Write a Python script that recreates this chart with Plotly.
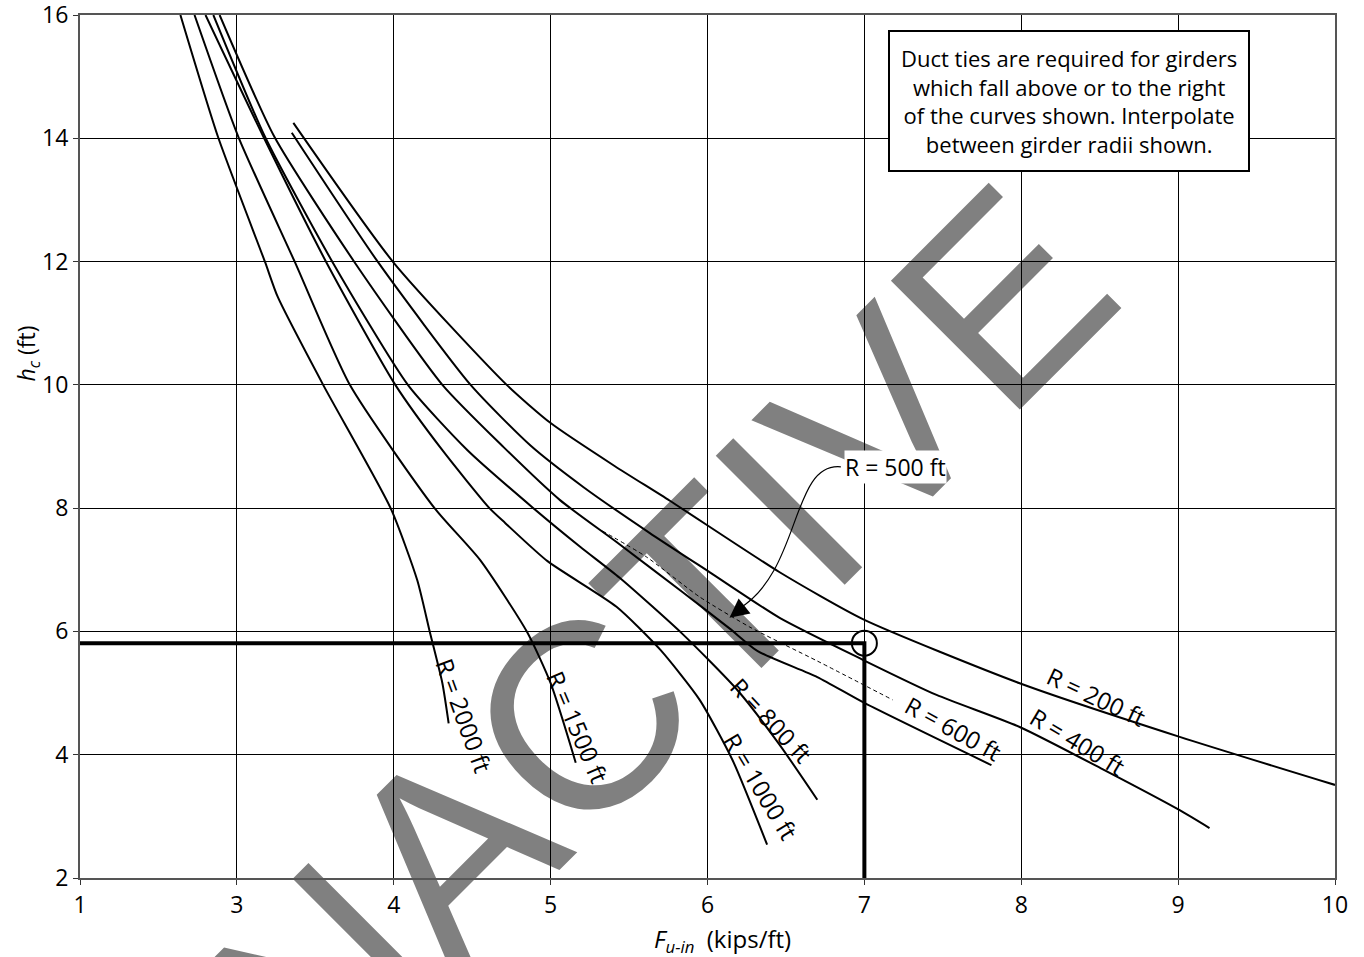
import plotly.graph_objects as go

# ---------------- data ----------------
x_tick_vals = [2, 3, 4, 5, 6, 7, 8, 9, 10]
x_tick_text = ["1", "3", "4", "5", "6", "7", "8", "9", "10"]
y_tick_vals = [2, 4, 6, 8, 10, 12, 14, 16]

r2000_x = [2.64, 2.88, 3.18, 3.26, 3.55, 3.98, 4.15, 4.23, 4.31, 4.35]
r2000_y = [16.0, 14.02, 11.99, 11.43, 10.0, 8.0, 6.83, 5.99, 5.16, 4.51]

r1500_x = [2.73, 3.01, 3.37, 3.72, 4.26, 4.55, 4.85, 5.00, 5.16]
r1500_y = [16.0, 14.02, 11.99, 10.0, 8.0, 7.16, 5.99, 5.16, 3.87]

r1000_x = [2.80, 3.17, 3.57, 4.01, 4.31, 4.61, 4.71, 4.98, 5.42, 5.70, 5.95, 6.16, 6.38]
r1000_y = [16.0, 14.02, 11.99, 10.0, 8.94, 8.0, 7.76, 7.14, 6.40, 5.70, 4.89, 3.91, 2.54]

r800_x = [2.85, 3.18, 3.61, 4.09, 4.47, 4.89, 5.19, 5.44, 5.84, 6.19, 6.46, 6.70]
r800_y = [16.0, 14.02, 11.99, 10.0, 8.94, 8.0, 7.37, 6.87, 5.96, 5.05, 4.16, 3.27]

r600_x = [2.89, 3.24, 3.75, 4.31, 4.70, 5.06, 5.42, 5.84, 6.14, 6.32, 6.70, 7.00, 7.81]
r600_y = [16.0, 14.02, 11.99, 10.0, 8.99, 8.13, 7.45, 6.64, 6.05, 5.68, 5.26, 4.84, 3.83]

r400_x = [3.35, 3.90, 4.49, 4.87, 5.21, 5.63, 6.02, 6.46, 6.99, 7.46, 7.99, 8.53, 9.01, 9.20]
r400_y = [14.09, 11.99, 10.0, 9.02, 8.34, 7.60, 6.95, 6.22, 5.54, 4.97, 4.45, 3.75, 3.10, 2.81]

r200_x = [3.36, 4.00, 4.72, 5.00, 5.41, 5.76, 6.46, 6.99, 7.99, 9.01, 10.0]
r200_y = [14.25, 11.98, 10.0, 9.38, 8.68, 8.12, 6.96, 6.20, 5.16, 4.29, 3.51]

r500_x = [5.33, 5.61, 5.95, 6.27, 6.70, 7.18]
r500_y = [7.63, 7.21, 6.56, 6.07, 5.52, 4.89]

curve_names = ["R = 2000 ft", "R = 1500 ft", "R = 1000 ft", "R = 800 ft",
               "R = 600 ft", "R = 400 ft", "R = 200 ft"]
curve_xs = [r2000_x, r1500_x, r1000_x, r800_x, r600_x, r400_x, r200_x]
curve_ys = [r2000_y, r1500_y, r1000_y, r800_y, r600_y, r400_y, r200_y]

# label anchor (x, y) and rotation for each radius label
label_x = [4.45, 5.17, 6.34, 6.41, 7.57, 8.36, 8.48]
label_y = [4.64, 4.45, 3.48, 4.56, 4.43, 4.21, 4.95]
label_angle = [70, 67, 59, 47, 29, 31, 25]

example_fu = 7.0
example_hc = 5.81

note_text = ("Duct ties are required for girders<br>which fall above or to the right"
             "<br>of the curves shown. Interpolate<br>between girder radii shown.")

FONT = "Open Sans"

fig = go.Figure()

for nm, xs, ys in zip(curve_names, curve_xs, curve_ys):
    fig.add_trace(go.Scatter(x=xs, y=ys, mode="lines", name=nm,
                             line=dict(color="black", width=2, shape="spline", smoothing=0.6),
                             hoverinfo="skip", showlegend=False))

fig.add_trace(go.Scatter(x=r500_x, y=r500_y, mode="lines", name="R = 500 ft",
                         line=dict(color="black", width=1, dash="4px,3px", shape="spline",
                                   smoothing=0.6),
                         hoverinfo="skip", showlegend=False))

# example read-off lines
fig.add_trace(go.Scatter(x=[2, example_fu, example_fu], y=[example_hc, example_hc, 2],
                         mode="lines", line=dict(color="black", width=4),
                         hoverinfo="skip", showlegend=False))
fig.add_trace(go.Scatter(x=[example_fu], y=[example_hc], mode="markers",
                         marker=dict(symbol="circle-open", size=25, color="black",
                                     line=dict(width=2, color="black")),
                         hoverinfo="skip", showlegend=False))

annotations = []
for nm, lx, ly, ang in zip(curve_names, label_x, label_y, label_angle):
    annotations.append(dict(x=lx, y=ly, xref="x", yref="y", text=nm, showarrow=False,
                            textangle=ang, font=dict(family=FONT, size=24, color="black"),
                            xanchor="center", yanchor="middle"))

# R = 500 ft callout
annotations.append(dict(x=6.87, y=8.67, xref="x", yref="y", text="R = 500 ft",
                        showarrow=False, xanchor="left", yanchor="middle",
                        bgcolor="white", borderpad=0,
                        font=dict(family=FONT, size=23, color="black")))
annotations.append(dict(x=6.14, y=6.22, xref="x", yref="y", text=" ", showarrow=True,
                        ax=14, ay=-11, arrowhead=2, arrowsize=3.2, arrowwidth=1.2,
                        arrowcolor="black", font=dict(size=2)))

# note box
annotations.append(dict(x=0.788, y=0.9004, xref="paper", yref="paper", text=note_text,
                        showarrow=False, xanchor="center", yanchor="middle",
                        align="center", bgcolor="white", bordercolor="black",
                        borderwidth=2, borderpad=11,
                        font=dict(family=FONT, size=22, color="black")))

# axis titles
annotations.append(dict(x=0.512, y=-0.072, xref="paper", yref="paper",
                        text="<i>F<sub>u-in</sub></i>&nbsp; (kips/ft)", showarrow=False,
                        xanchor="center", yanchor="middle",
                        font=dict(family=FONT, size=24, color="black")))
annotations.append(dict(x=-0.042, y=0.608, xref="paper", yref="paper",
                        text="<i>h<sub>c</sub></i> (ft)", showarrow=False, textangle=-90,
                        xanchor="center", yanchor="middle",
                        font=dict(family=FONT, size=23, color="black")))

# leader curve for R = 500 ft
fig.add_shape(type="path", xref="x", yref="y",
              path="M 6.85,8.67 C 6.53,8.75 6.60,6.98 6.20,6.37",
              line=dict(color="black", width=1.2))

# watermark
fig.add_shape(type="rect", xref="paper", yref="paper", x0=0.418, x1=0.434, y0=0.256, y1=0.274,
              line=dict(width=0), fillcolor="rgba(0,0,0,0)", layer="below",
              label=dict(text="INACTIVE", textangle=-45, textposition="middle center",
                         font=dict(family="Liberation Sans", size=265, color="#808080")))

fig.update_layout(
    width=1364, height=957,
    margin=dict(l=80, r=29, t=15, b=79),
    paper_bgcolor="white", plot_bgcolor="rgba(0,0,0,0)",
    annotations=annotations,
    font=dict(family=FONT, color="black"),
)
fig.update_xaxes(range=[2, 10], tickvals=x_tick_vals, ticktext=x_tick_text, automargin=False,
                 showgrid=True, gridcolor="black", gridwidth=1, zeroline=False,
                 showline=True, linecolor="#555", linewidth=2, mirror=True,
                 ticks="outside", ticklen=5, tickcolor="#333", ticklabeloverflow="allow",
                 tickfont=dict(family=FONT, size=23, color="black"))
fig.update_yaxes(range=[2, 16], tickvals=y_tick_vals, automargin=False,
                 showgrid=True, gridcolor="black", gridwidth=1, zeroline=False,
                 showline=True, linecolor="#555", linewidth=2, mirror=True,
                 ticks="outside", ticklen=5, tickcolor="#333", ticklabeloverflow="allow",
                 tickfont=dict(family=FONT, size=23, color="black"))

# remove the browser's default 8px body margin so the figure sits at the page origin
fig.write_html("out.html", config={"displayModeBar": False},
               post_script="document.body.style.margin='0px';")
